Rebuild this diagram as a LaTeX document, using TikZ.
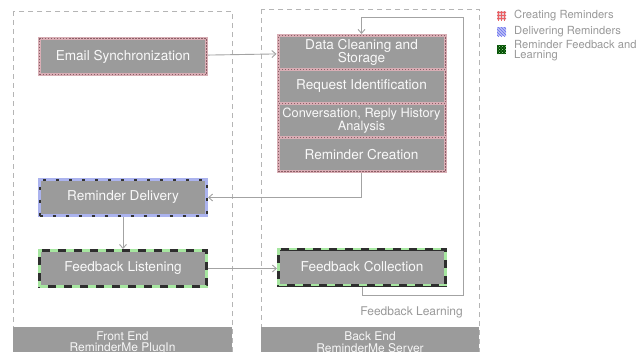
\documentclass[tikz,border=0pt]{standalone}
\usepackage{fontspec}
\setmainfont{TeX Gyre Heros}
\usetikzlibrary{arrows.meta,patterns}
\definecolor{boxgray}{HTML}{9B9B9B}
\definecolor{linegray}{HTML}{A3A3A3}
\definecolor{creatpink}{HTML}{D9AEB5}
\definecolor{creatdark}{HTML}{8C5E66}
\definecolor{delivblue}{HTML}{ABB3EE}
\definecolor{fbgreen}{HTML}{A6E6A0}
\definecolor{fbdark}{HTML}{2E2E2E}
\definecolor{labelgray}{HTML}{999999}
\tikzset{ % Common looks
	stepbox/.style={fill=boxgray, text=white!95!gray, minimum width=167pt, minimum height=36pt,
		align=center, font=\fontsize{13.6}{13.5}\selectfont, inner sep=1pt},
	creating/.style={stepbox, draw=creatpink, line width=3pt,
		postaction={draw=creatdark, line width=1pt, dash pattern=on 1.5pt off 1.5pt}},
	delivering/.style={stepbox, draw=delivblue, line width=3pt,
		postaction={draw=black!80, line width=2pt, dash pattern=on 3pt off 10pt}},
	feedback/.style={stepbox, draw=fbdark, line width=3pt,
		postaction={draw=fbgreen, line width=2.4pt, dash pattern=on 8pt off 8pt}},
	conn/.style={draw=linegray, line width=0.9pt, -{Straight Barb[length=4pt,width=7pt]}},
	panel/.style={draw=linegray!80, line width=0.7pt, dash pattern=on 5pt off 4pt},
	bartext/.style={text=white!93!gray, font=\fontsize{12}{12}\selectfont, inner sep=0pt},
	legtext/.style={text=labelgray, font=\fontsize{11.2}{10.5}\selectfont, anchor=west, align=left, inner sep=0pt}
}
\begin{document}
\begin{tikzpicture}[x=1pt,y=-1pt]
		% Canvas
		\clip (0,0) rectangle (642,351);
		\fill[white] (0,0) rectangle (642,351);
		% Draw panels
		\draw[panel] (13,11) rectangle (232,360);
		\draw[panel] (261,9) rectangle (479,360);
		\fill[boxgray] (13,327) rectangle (232,360);
		\fill[boxgray] (261,327) rectangle (479,360);
		\node[bartext] (frontname) at (122.5,336) {Front End};
		\node[bartext] (frontsub) at (122.5,348.5) {ReminderMe PlugIn};
		\node[bartext] (backname) at (370,336) {Back End};
		\node[bartext] (backsub) at (370,348.5) {ReminderMe Server};
		% Draw steps
		\node[creating] (sync) at (123,56.5) {Email Synchronization};
		\node[creating, minimum height=34pt] (clean) at (361.5,52.5) {Data Cleaning and\\Storage};
		\node[creating, minimum height=34pt] (request) at (361.5,86.5) {Request Identification};
		\node[creating, minimum height=34pt, font=\fontsize{12.8}{13}\selectfont, inner sep=0pt] (history) at (361.5,120.5) {Conversation, Reply History\\Analysis};
		\node[creating, minimum height=34pt] (create) at (361.5,154.5) {Reminder Creation};
		\node[delivering] (delivery) at (123,197.5) {Reminder Delivery};
		\node[feedback] (listen) at (123,268.5) {Feedback Listening};
		\node[feedback] (collect) at (362,267) {Feedback Collection};
		% Draw connectors
		\coordinate (loopA) at (463,295);
		\coordinate (loopB) at (463,17);
		\draw[conn] (sync) -- (clean);
		\draw[conn] (collect.south) |- (loopA) -- (loopB) -| (clean.north);
		\draw[conn] (create.south) |- (delivery.east);
		\draw[conn] (delivery) -- (listen);
		\draw[conn] (listen.east) -- (listen.east -| collect.west);
		\node[text=labelgray, font=\fontsize{12}{12}\selectfont, anchor=east, inner sep=0pt] (learnlabel) at (463,312) {Feedback Learning};
		% Draw legend
		\fill[creatpink!60] (497,11) rectangle (506,20);
		\fill[pattern=grid, pattern color=red!45!creatpink] (497,11) rectangle (506,20);
		\fill[delivblue!80] (497,27) rectangle (506,36);
		\fill[pattern=north west lines, pattern color=blue!40!delivblue] (497,27) rectangle (506,36);
		\fill[black!70!green] (497,45) rectangle (506,54);
		\fill[pattern=crosshatch dots, pattern color=fbgreen] (497,45) rectangle (506,54);
		\node[legtext] (legcreate) at (514,16) {Creating Reminders};
		\node[legtext] (legdeliver) at (514,32) {Delivering Reminders};
		\node[legtext] (legfeedback) at (514,50.5) {Reminder Feedback and\\Learning};
\end{tikzpicture}
\end{document}
